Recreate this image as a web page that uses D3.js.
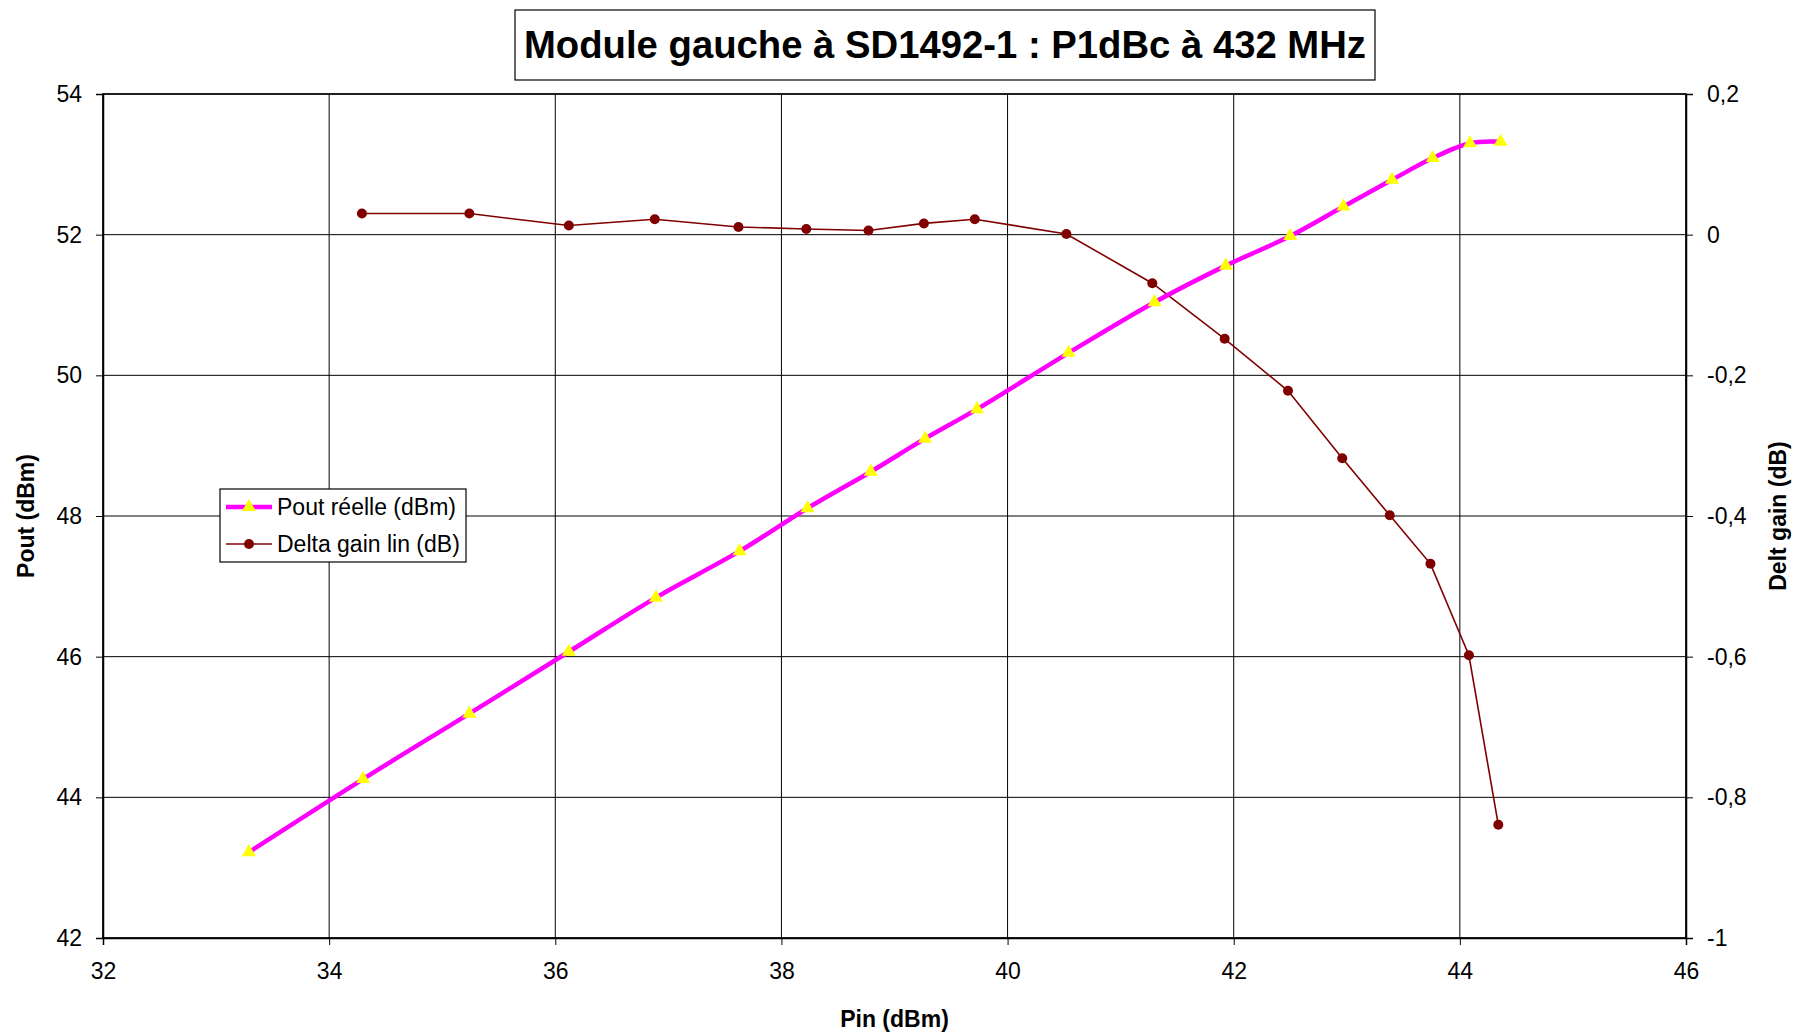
<!DOCTYPE html>
<html>
<head>
<meta charset="utf-8">
<script src="https://cdn.jsdelivr.net/npm/d3@7"></script>
<style>
  body { margin: 0; background: #fff; }
  svg { display: block; font-family: "Liberation Sans", Arial, sans-serif; }
</style>
</head>
<body>
<div id="chart"></div>
<script>
// donnees
const pinPout = [33.29, 34.30, 35.24, 36.12, 36.89, 37.63, 38.23, 38.79, 39.27, 39.73, 40.54, 41.30, 41.93, 42.50, 42.97, 43.40, 43.76, 44.09, 44.36];
const pout = [43.22, 44.26, 45.19, 46.07, 46.84, 47.50, 48.11, 48.63, 49.10, 49.52, 50.32, 51.04, 51.56, 51.98, 52.40, 52.78, 53.09, 53.30, 53.32];

const pinDelta = [34.29, 35.24, 36.12, 36.88, 37.62, 38.22, 38.77, 39.26, 39.71, 40.52, 41.28, 41.92, 42.48, 42.96, 43.38, 43.74, 44.08, 44.34];
const deltaGain = [0.03, 0.03, 0.013, 0.022, 0.011, 0.008, 0.006, 0.016, 0.022, 0.001, -0.069, -0.148, -0.222, -0.318, -0.399, -0.468, -0.598, -0.839];

const xTicks = [32, 34, 36, 38, 40, 42, 44, 46];
const yLeftTicks = [42, 44, 46, 48, 50, 52, 54];
const yRightTicks = [-1, -0.8, -0.6, -0.4, -0.2, 0, 0.2];

const width = 1796;
const height = 1034;
const pLeft = 103, pRight = 1686, pTop = 94, pBottom = 938;

const svg = d3.select("#chart").append("svg")
    .attr("width", width)
    .attr("height", height);

const x = d3.scaleLinear().domain([32, 46]).range([pLeft, pRight]);
const yL = d3.scaleLinear().domain([42, 54]).range([pBottom, pTop]);
const yR = d3.scaleLinear().domain([-1, 0.2]).range([pBottom, pTop]);

const fmt = d => String(d).replace(".", ",");

// grille
svg.append("g")
    .selectAll("line")
    .data(xTicks)
    .enter().append("line")
    .attr("x1", d => x(d)).attr("x2", d => x(d))
    .attr("y1", pTop).attr("y2", pBottom)
    .attr("stroke", "#000").attr("stroke-width", 1);

svg.append("g")
    .selectAll("line")
    .data(yLeftTicks)
    .enter().append("line")
    .attr("x1", pLeft).attr("x2", pRight)
    .attr("y1", d => yL(d)).attr("y2", d => yL(d))
    .attr("stroke", "#000").attr("stroke-width", 1);

// axes
const axisB = svg.append("g")
    .attr("transform", `translate(0, ${pBottom})`)
    .call(d3.axisBottom(x).tickValues(xTicks).tickSize(7).tickPadding(18));

const axisL = svg.append("g")
    .attr("transform", `translate(${pLeft}, 0)`)
    .call(d3.axisLeft(yL).tickValues(yLeftTicks).tickSize(7).tickPadding(14));

const axisR = svg.append("g")
    .attr("transform", `translate(${pRight}, 0)`)
    .call(d3.axisRight(yR).tickValues(yRightTicks).tickFormat(fmt).tickSize(7).tickPadding(14));

[axisB, axisL, axisR].forEach(a => {
    a.select(".domain").attr("stroke", "#000").attr("stroke-width", 1.5);
    a.selectAll(".tick line").attr("stroke", "#000");
    a.selectAll("text")
        .attr("font-size", 23)
        .attr("font-family", "Liberation Sans, Arial, sans-serif")
        .attr("fill", "#000");
});

// cadre
svg.append("rect")
    .attr("x", pLeft).attr("y", pTop)
    .attr("width", pRight - pLeft).attr("height", pBottom - pTop)
    .attr("fill", "none").attr("stroke", "#000").attr("stroke-width", 1.5);

// courbe delta gain
const dataDelta = pinDelta.map((p, i) => [p, deltaGain[i]]);
svg.append("path")
    .datum(dataDelta)
    .attr("d", d3.line().x(d => x(d[0])).y(d => yR(d[1])))
    .attr("fill", "none")
    .attr("stroke", "#800000")
    .attr("stroke-width", 1.6);

svg.append("g")
    .selectAll("circle")
    .data(dataDelta)
    .enter().append("circle")
    .attr("cx", d => x(d[0]))
    .attr("cy", d => yR(d[1]))
    .attr("r", 5)
    .attr("fill", "#800000");

// courbe pout
const dataPout = pinPout.map((p, i) => [p, pout[i]]);
svg.append("path")
    .datum(dataPout)
    .attr("d", d3.line().curve(d3.curveCatmullRom).x(d => x(d[0])).y(d => yL(d[1])))
    .attr("fill", "none")
    .attr("stroke", "#ff00ff")
    .attr("stroke-width", 4.5);

const tri = d3.symbol().type(d3.symbolTriangle).size(85);
svg.append("g")
    .selectAll("path")
    .data(dataPout)
    .enter().append("path")
    .attr("d", tri)
    .attr("transform", d => `translate(${x(d[0])}, ${yL(d[1])})`)
    .attr("fill", "#ffff00");

// titres des axes
svg.append("text")
    .attr("x", (pLeft + pRight) / 2).attr("y", 1027)
    .attr("text-anchor", "middle")
    .attr("font-size", 23).attr("font-weight", "bold")
    .text("Pin (dBm)");

svg.append("text")
    .attr("transform", `translate(34, ${(pTop + pBottom) / 2}) rotate(-90)`)
    .attr("text-anchor", "middle")
    .attr("font-size", 23).attr("font-weight", "bold")
    .text("Pout (dBm)");

svg.append("text")
    .attr("transform", `translate(1786, ${(pTop + pBottom) / 2}) rotate(-90)`)
    .attr("text-anchor", "middle")
    .attr("font-size", 23).attr("font-weight", "bold")
    .text("Delt gain (dB)");

// titre
svg.append("rect")
    .attr("x", 515).attr("y", 10)
    .attr("width", 860).attr("height", 70)
    .attr("fill", "#fff").attr("stroke", "#000").attr("stroke-width", 1.2);

svg.append("text")
    .attr("x", 945).attr("y", 58)
    .attr("text-anchor", "middle")
    .attr("font-size", 38).attr("font-weight", "bold")
    .attr("textLength", 842).attr("lengthAdjust", "spacingAndGlyphs")
    .text("Module gauche à SD1492-1 : P1dBc à 432 MHz");

// legende
const legend = svg.append("g").attr("transform", "translate(220, 489)");
legend.append("rect")
    .attr("width", 246).attr("height", 73)
    .attr("fill", "#fff").attr("stroke", "#000").attr("stroke-width", 1.2);

const items = [
    {name: "Pout réelle (dBm)", color: "#ff00ff", w: 4.5, mark: "tri", y: 18},
    {name: "Delta gain lin (dB)", color: "#800000", w: 1.6, mark: "circle", y: 55}
];

items.forEach(it => {
    legend.append("line")
        .attr("x1", 6).attr("x2", 52)
        .attr("y1", it.y).attr("y2", it.y)
        .attr("stroke", it.color).attr("stroke-width", it.w);
    if (it.mark === "tri") {
        legend.append("path")
            .attr("d", tri)
            .attr("transform", `translate(29, ${it.y})`)
            .attr("fill", "#ffff00");
    } else {
        legend.append("circle")
            .attr("cx", 29).attr("cy", it.y).attr("r", 5)
            .attr("fill", it.color);
    }
    legend.append("text")
        .attr("x", 57).attr("y", it.y + 8)
        .attr("font-size", 23)
        .text(it.name);
});
</script>
</body>
</html>
